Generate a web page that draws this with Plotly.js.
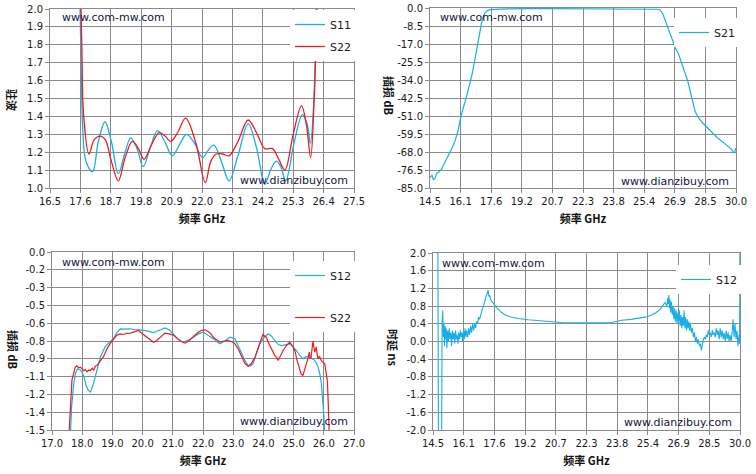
<!DOCTYPE html>
<html>
<head>
<meta charset="utf-8">
<script src="https://cdn.plot.ly/plotly-3.0.1.min.js"></script>
<style>
  html, body { margin: 0; padding: 0; background: #fff; }
  #plot { width: 756px; height: 474px; }
</style>
</head>
<body>
<div id="plot"></div>
<script>
// ---- top left: VSWR ----
const vswrTicks = [16.5, 17.6, 18.7, 19.8, 20.9, 22.0, 23.1, 24.2, 25.3, 26.4, 27.5];
const vswrTickText = ["16.5", "17.6", "18.7", "19.8", "20.9", "22.0", "23.1", "24.2", "25.3", "26.4", "27.5"];
const vswrYTicks = [1.0, 1.1, 1.2, 1.3, 1.4, 1.5, 1.6, 1.7, 1.8, 1.9, 2.0];
const vswrYText = ["1.0", "1.1", "1.2", "1.3", "1.4", "1.5", "1.6", "1.7", "1.8", "1.9", "2.0"];

const freqS11 = [17.55, 17.62, 17.68, 17.80, 18.04, 18.25, 18.49, 18.72, 18.97, 19.20,
                 19.42, 19.65, 19.87, 20.12, 20.39, 20.65, 20.92, 21.18, 21.44, 21.73,
                 22.02, 22.22, 22.43, 22.70, 22.98, 23.30, 23.67, 23.98, 24.27, 24.48,
                 24.69, 24.85, 25.03, 25.33, 25.63, 25.80, 25.92, 26.05, 26.15];
const vswrS11 = [2.30, 1.75, 1.35, 1.15, 1.09, 1.26, 1.37, 1.26, 1.08, 1.19,
                 1.28, 1.22, 1.12, 1.22, 1.32, 1.26, 1.18, 1.24, 1.30, 1.25,
                 1.17, 1.21, 1.24, 1.15, 1.04, 1.18, 1.36, 1.22, 1.02, 1.10,
                 1.15, 1.12, 1.04, 1.25, 1.41, 1.36, 1.25, 1.50, 2.20];

const freqS22 = [17.58, 17.65, 17.72, 17.91, 18.10, 18.31, 18.50, 18.72, 18.97, 19.22,
                 19.48, 19.70, 19.90, 20.17, 20.45, 20.66, 20.87, 21.12, 21.41, 21.78,
                 22.12, 22.32, 22.52, 22.75, 22.98, 23.30, 23.67, 24.00, 24.27, 24.55,
                 24.78, 25.00, 25.30, 25.60, 25.78, 25.93, 26.06, 26.18];
const vswrS22 = [2.30, 1.80, 1.40, 1.19, 1.27, 1.29, 1.27, 1.15, 1.04, 1.17,
                 1.26, 1.22, 1.16, 1.24, 1.31, 1.29, 1.26, 1.31, 1.39, 1.25,
                 1.03, 1.15, 1.19, 1.19, 1.18, 1.26, 1.38, 1.30, 1.22, 1.22,
                 1.16, 1.10, 1.30, 1.46, 1.35, 1.17, 1.50, 2.20];

// ---- top right: S21 wide band ----
const wideTicks = [14.5, 16.05, 17.6, 19.15, 20.7, 22.25, 23.8, 25.35, 26.9, 28.45, 30.0];
const wideTickText = ["14.5", "16.1", "17.6", "19.2", "20.7", "22.3", "23.8", "25.4", "26.9", "28.5", "30.0"];
const s21YTicks = [0, -8.5, -17, -25.5, -34, -42.5, -51, -59.5, -68, -76.5, -85];
const s21YText = ["0.0", "-8.5", "-17.0", "-25.5", "-34.0", "-42.5", "-51.0", "-59.5", "-68.0", "-76.5", "-85.0"];

const freqS21 = [14.50, 14.60, 14.67, 14.75, 14.84, 14.95, 15.09, 15.25, 15.43, 15.60,
                 15.76, 15.92, 16.07, 16.20, 16.35, 16.48, 16.61, 16.74, 16.86, 16.98,
                 17.11, 17.20, 17.28, 17.40, 17.53, 18.00, 18.63, 19.50, 20.50, 21.50,
                 22.50, 23.50, 24.50, 25.50, 26.04, 26.13, 26.21, 26.30, 26.46, 26.63,
                 26.80, 26.93, 27.08, 27.22, 27.40, 27.56, 27.70, 27.81, 27.92, 28.01,
                 28.15, 28.32, 28.50, 28.74, 28.90, 29.07, 29.30, 29.58, 29.75, 29.92,
                 29.97, 30.00];
const lossS21 = [-80.0, -79.0, -81.0, -80.5, -78.0, -77.5, -76.0, -73.0, -70.0, -66.5,
                 -63.0, -58.0, -51.0, -46.0, -41.7, -37.0, -32.3, -26.0, -19.7, -13.0,
                 -7.1, -4.0, -2.4, -1.3, -0.8, -0.5, -0.3, -0.25, -0.3, -0.3,
                 -0.35, -0.3, -0.45, -0.55, -0.6, -0.9, -1.6, -3.0, -7.1, -11.5,
                 -15.7, -18.9, -21.5, -25.2, -29.5, -34.6, -40.0, -44.9, -48.5, -50.4,
                 -52.5, -54.3, -56.0, -58.3, -60.0, -61.4, -63.0, -65.3, -66.5, -68.5,
                 -67.0, -66.0];

// ---- bottom left: passband loss ----
const passTicks = [17, 18, 19, 20, 21, 22, 23, 24, 25, 26, 27];
const passTickText = ["17.0", "18.0", "19.0", "20.0", "21.0", "22.0", "23.0", "24.0", "25.0", "26.0", "27.0"];
const passYTicks = [0, -0.15, -0.3, -0.45, -0.6, -0.75, -0.9, -1.05, -1.2, -1.35, -1.5];
const passYText = ["0.0", "-0.2", "-0.3", "-0.5", "-0.6", "-0.8", "-0.9", "-1.1", "-1.2", "-1.4", "-1.5"];

const freqPassS12 = [17.60, 17.65, 17.72, 17.78, 17.85, 17.92, 17.99, 18.06, 18.13, 18.20,
                     18.27, 18.35, 18.43, 18.52, 18.60, 18.68, 18.76, 18.90, 19.04, 19.15,
                     19.26, 19.40, 19.59, 19.75, 19.92, 20.15, 20.36, 20.55, 20.74, 20.88,
                     21.02, 21.20, 21.35, 21.50, 21.68, 21.85, 22.01, 22.18, 22.34, 22.45,
                     22.56, 22.72, 22.89, 23.06, 23.17, 23.28, 23.40, 23.50, 23.58, 23.66,
                     23.77, 23.88, 24.02, 24.16, 24.27, 24.38, 24.49, 24.60, 24.73, 24.87,
                     24.98, 25.09, 25.20, 25.31, 25.42, 25.54, 25.62, 25.70, 25.76, 25.81,
                     25.87, 25.92, 25.98, 26.03, 26.08];
const passS12 = [-1.60, -1.30, -1.11, -1.02, -0.985, -0.99, -1.013, -1.05, -1.126, -1.165,
                 -1.18, -1.13, -1.055, -0.96, -0.887, -0.84, -0.80, -0.76, -0.73, -0.68,
                 -0.647, -0.65, -0.647, -0.655, -0.656, -0.665, -0.68, -0.66, -0.64, -0.655,
                 -0.69, -0.74, -0.76, -0.745, -0.718, -0.69, -0.675, -0.70, -0.73, -0.755,
                 -0.774, -0.75, -0.718, -0.73, -0.79, -0.859, -0.92, -0.957, -0.96, -0.94,
                 -0.86, -0.774, -0.72, -0.69, -0.71, -0.746, -0.78, -0.788, -0.78, -0.774,
                 -0.80, -0.83, -0.87, -0.90, -0.88, -0.887, -0.90, -0.915, -0.94, -0.97,
                 -1.03, -1.11, -1.30, -1.50, -1.70];

const freqPassS22 = [17.55, 17.60, 17.66, 17.72, 17.77, 17.82, 17.88, 17.94, 17.99, 18.05,
                     18.10, 18.16, 18.21, 18.27, 18.33, 18.38, 18.44, 18.49, 18.55, 18.60,
                     18.65, 18.71, 18.76, 18.82, 18.93, 19.04, 19.15, 19.26, 19.37, 19.48,
                     19.59, 19.70, 19.80, 19.87, 19.95, 20.05, 20.14, 20.25, 20.36, 20.47,
                     20.58, 20.66, 20.74, 20.88, 21.02, 21.15, 21.28, 21.41, 21.55, 21.65,
                     21.74, 21.85, 21.96, 22.07, 22.18, 22.26, 22.34, 22.45, 22.56, 22.70,
                     22.83, 22.95, 23.06, 23.17, 23.28, 23.39, 23.50, 23.60, 23.72, 23.80,
                     23.88, 23.94, 23.99, 24.04, 24.10, 24.16, 24.23, 24.30, 24.38, 24.44,
                     24.49, 24.57, 24.65, 24.76, 24.87, 24.96, 25.04, 25.12, 25.20, 25.25,
                     25.31, 25.36, 25.42, 25.47, 25.52, 25.55, 25.58, 25.61, 25.64, 25.67,
                     25.70, 25.73, 25.75, 25.78, 25.81, 25.86, 25.92, 25.98, 26.03, 26.06,
                     26.09, 26.12, 26.15, 26.19];
const passS22 = [-1.60, -1.35, -1.08, -1.02, -0.97, -0.96, -0.975, -0.97, -0.985, -1.00,
                 -0.99, -1.01, -0.995, -1.00, -0.98, -0.995, -0.96, -0.957, -0.935, -0.92,
                 -0.90, -0.88, -0.85, -0.816, -0.77, -0.73, -0.70, -0.69, -0.695, -0.685,
                 -0.684, -0.675, -0.668, -0.66, -0.68, -0.70, -0.718, -0.745, -0.76, -0.745,
                 -0.72, -0.70, -0.684, -0.69, -0.70, -0.73, -0.755, -0.768, -0.745, -0.72,
                 -0.70, -0.675, -0.66, -0.656, -0.672, -0.69, -0.718, -0.74, -0.76, -0.75,
                 -0.746, -0.755, -0.774, -0.82, -0.887, -0.94, -0.965, -0.94, -0.887, -0.83,
                 -0.774, -0.73, -0.69, -0.71, -0.718, -0.76, -0.80, -0.84, -0.873, -0.89,
                 -0.91, -0.875, -0.83, -0.79, -0.76, -0.79, -0.83, -0.92, -1.00, -1.03,
                 -1.04, -1.00, -0.957, -0.90, -0.844, -0.90, -0.887, -0.82, -0.75, -0.80,
                 -0.844, -0.82, -0.80, -0.86, -0.90, -0.88, -0.915, -0.93, -0.94, -0.99,
                 -1.05, -1.09, -1.30, -1.60];

// ---- bottom right: group delay ----
const delayYTicks = [2.0, 1.6, 1.2, 0.8, 0.4, 0.0, -0.4, -0.8, -1.2, -1.6, -2.0];
const delayYText = ["2.0", "1.6", "1.2", "0.8", "0.4", "0.0", "-0.4", "-0.8", "-1.2", "-1.6", "-2.0"];

const freqDelay = [14.70, 14.74, 14.78, 14.93, 14.96, 14.99, 15.02, 15.05, 15.08, 15.11,
                   15.14, 15.17, 15.20, 15.24, 15.28, 15.32, 15.36, 15.40, 15.44, 15.48,
                   15.52, 15.56, 15.60, 15.64, 15.68, 15.72, 15.76, 15.80, 15.84, 15.88,
                   15.92, 15.96, 16.00, 16.04, 16.08, 16.12, 16.16, 16.20, 16.25, 16.30,
                   16.35, 16.40, 16.45, 16.50, 16.55, 16.60, 16.65, 16.70, 16.75, 16.80,
                   16.85, 16.90, 16.95, 17.00, 17.05, 17.10, 17.15, 17.20, 17.25, 17.28,
                   17.32, 17.36, 17.40, 17.45, 17.53, 17.70, 17.95, 18.15, 18.38, 18.80,
                   19.30, 20.14, 20.99, 21.80, 22.67, 23.20, 23.51, 24.02, 24.50, 24.86,
                   25.20, 25.54, 25.75, 25.96, 26.10, 26.21, 26.30, 26.35, 26.38, 26.41,
                   26.44, 26.47, 26.50, 26.54, 26.58, 26.62, 26.66, 26.70, 26.74, 26.78,
                   26.82, 26.86, 26.90, 26.94, 26.98, 27.02, 27.06, 27.10, 27.14, 27.18,
                   27.22, 27.26, 27.30, 27.34, 27.38, 27.42, 27.46, 27.50, 27.55, 27.60,
                   27.65, 27.70, 27.75, 27.80, 27.85, 27.90, 27.95, 28.00, 28.05, 28.10,
                   28.15, 28.20, 28.25, 28.30, 28.35, 28.40, 28.45, 28.50, 28.55, 28.60,
                   28.65, 28.70, 28.75, 28.80, 28.85, 28.90, 28.95, 29.00, 29.05, 29.10,
                   29.15, 29.20, 29.25, 29.30, 29.35, 29.40, 29.45, 29.50, 29.55, 29.60,
                   29.65, 29.70, 29.75, 29.80, 29.85, 29.90, 29.95, 29.98, 30.00];
const delayS12 = [3, 3, -3, -3, 0.45, 0.70, 0.10, 0.40, -0.10, 0.35,
                  0.05, 0.30, -0.15, 0.25, 0.00, 0.30, 0.05, 0.20, -0.10, 0.25,
                  0.05, 0.20, -0.05, 0.25, 0.05, 0.15, -0.05, 0.20, 0.05, 0.25,
                  0.10, 0.20, 0.00, 0.25, 0.05, 0.30, 0.10, 0.25, 0.10, 0.30,
                  0.15, 0.35, 0.20, 0.40, 0.25, 0.40, 0.30, 0.45, 0.40, 0.55,
                  0.50, 0.60, 0.65, 0.75, 0.80, 0.90, 0.95, 1.05, 1.10, 1.16,
                  1.02, 1.05, 0.95, 0.92, 0.88, 0.77, 0.66, 0.60, 0.56, 0.52,
                  0.49, 0.46, 0.43, 0.42, 0.41, 0.42, 0.43, 0.48, 0.50, 0.52,
                  0.55, 0.60, 0.65, 0.72, 0.80, 0.88, 0.80, 0.98, 0.85, 1.05,
                  0.75, 0.95, 0.65, 0.90, 0.60, 0.80, 0.50, 0.75, 0.45, 0.70,
                  0.40, 0.65, 0.45, 0.70, 0.35, 0.60, 0.30, 0.55, 0.35, 0.70,
                  0.30, 0.55, 0.25, 0.50, 0.30, 0.45, 0.25, 0.40, 0.20, 0.30,
                  0.10, 0.20, 0.00, 0.10, -0.05, 0.05, -0.10, -0.05, -0.20, -0.05,
                  0.05, 0.10, 0.05, 0.15, 0.10, 0.25, 0.15, 0.20, 0.10, 0.25,
                  0.15, 0.20, 0.10, 0.30, 0.15, 0.25, 0.05, 0.30, 0.10, 0.25,
                  0.05, 0.20, 0.00, 0.25, 0.05, 0.20, 0.00, 0.15, 0.00, 0.20,
                  0.50, 0.10, 0.40, 0.05, 0.25, -0.10, 0.15, -0.05, 3];

const BLUE = "#1aaee8";
const RED = "#ee1c1c";
const GRID = "#8a8a8a";
const W = 756, H = 474;

// pixel -> paper helpers
function px(x) { return x / W; }
function py(y) { return 1 - y / H; }

/**
 * Shared axis look (Excel-like grey grid, outside ticks).
 */
function axis(domain, anchor, range, vals, text, extra) {
    return Object.assign({
        domain: domain,
        anchor: anchor,
        range: range,
        tickmode: "array",
        tickvals: vals,
        ticktext: text,
        showgrid: true,
        gridcolor: GRID,
        gridwidth: 1,
        zeroline: false,
        showline: true,
        linecolor: GRID,
        linewidth: 1,
        mirror: true,
        ticks: "outside",
        ticklen: 4,
        tickcolor: GRID,
        tickfont: { family: "DejaVu Sans", size: 10, color: "#1a1a1a" },
        fixedrange: true
    }, extra || {});
}

const xTitle = {
    text: "<b>频率 GHz</b>",
    font: { family: "Noto Sans CJK SC", size: 11, color: "#111" },
    standoff: 9
};

const traces = [
    { x: freqS11, y: vswrS11, xaxis: "x", yaxis: "y", name: "S11", mode: "lines",
      line: { color: BLUE, width: 1.3, shape: "spline" }, legend: "legend", legendgroup: "a" },
    { x: freqS22, y: vswrS22, xaxis: "x", yaxis: "y", name: "S22", mode: "lines",
      line: { color: RED, width: 1.3, shape: "spline" }, legend: "legend", legendgroup: "b" },
    { x: freqS21, y: lossS21, xaxis: "x2", yaxis: "y2", name: "S21", mode: "lines",
      line: { color: BLUE, width: 1.2 }, legend: "legend2" },
    { x: freqPassS12, y: passS12, xaxis: "x3", yaxis: "y3", name: "S12", mode: "lines",
      line: { color: BLUE, width: 1.2 }, legend: "legend3", legendgroup: "c" },
    { x: freqPassS22, y: passS22, xaxis: "x3", yaxis: "y3", name: "S22", mode: "lines",
      line: { color: RED, width: 1.2 }, legend: "legend3", legendgroup: "d" },
    { x: freqDelay, y: delayS12, xaxis: "x4", yaxis: "y4", name: "S12", mode: "lines",
      line: { color: BLUE, width: 1.1 }, legend: "legend4" }
];

const legendBase = {
    bgcolor: "#ffffff",
    borderwidth: 0,
    xanchor: "left",
    yanchor: "top",
    font: { family: "DejaVu Sans", size: 11, color: "#1a1a1a" },
    traceorder: "grouped",
    itemwidth: 30
};

const watermark = (x, y, text) => ({
    xref: "paper", yref: "paper", x: px(x), y: py(y),
    xanchor: "left", yanchor: "middle", showarrow: false, text: text,
    font: { family: "DejaVu Sans", size: 11, color: "#14143c" }
});

const yTitle = (x, y, text) => ({
    xref: "paper", yref: "paper", x: px(x), y: py(y),
    xanchor: "center", yanchor: "middle", showarrow: false, textangle: 90, text: text,
    font: { family: "Noto Sans CJK SC", size: 11, color: "#111" }
});

const layout = {
    width: W,
    height: H,
    margin: { l: 0, r: 0, t: 0, b: 0 },
    paper_bgcolor: "#ffffff",
    plot_bgcolor: "#ffffff",
    showlegend: true,

    xaxis: axis([px(50), px(354)], "y", [16.5, 27.5], vswrTicks, vswrTickText, { title: xTitle }),
    yaxis: axis([py(188), py(9)], "x", [1, 2], vswrYTicks, vswrYText),
    xaxis2: axis([px(430), px(736)], "y2", [14.5, 30], wideTicks, wideTickText, { title: xTitle }),
    yaxis2: axis([py(188), py(8)], "x2", [-85, 0], s21YTicks, s21YText),
    xaxis3: axis([px(52), px(354)], "y3", [17, 27], passTicks, passTickText, { title: xTitle }),
    yaxis3: axis([py(430), py(252)], "x3", [-1.5, 0], passYTicks, passYText),
    xaxis4: axis([px(433), px(740)], "y4", [14.5, 30], wideTicks, wideTickText, { title: xTitle }),
    yaxis4: axis([py(430), py(253)], "x4", [-2, 2], delayYTicks, delayYText),

    legend: Object.assign({}, legendBase, { x: px(290), y: py(10), tracegroupgap: 3 }),
    legend2: Object.assign({}, legendBase, { x: px(674), y: py(18) }),
    legend3: Object.assign({}, legendBase, { x: px(290), y: py(261), tracegroupgap: 23 }),
    legend4: Object.assign({}, legendBase, { x: px(676), y: py(265) }),

    annotations: [
        watermark(60, 18, "www.com-mw.com"),
        watermark(238, 180, "www.dianzibuy.com"),
        watermark(438, 18, "www.com-mw.com"),
        watermark(619, 181, "www.dianzibuy.com"),
        watermark(60, 262, "www.com-mw.com"),
        watermark(238, 421, "www.dianzibuy.com"),
        watermark(440, 263, "www.com-mw.com"),
        watermark(622, 422, "www.dianzibuy.com"),
        yTitle(12, 100, "<b>驻波</b>"),
        yTitle(389, 96, "<b>插损 dB</b>"),
        yTitle(13, 350, "<b>插损 dB</b>"),
        yTitle(393, 348, "<b>时延 ns</b>")
    ]
};

Plotly.newPlot("plot", traces, layout, { displayModeBar: false, staticPlot: true });
</script>
</body>
</html>
